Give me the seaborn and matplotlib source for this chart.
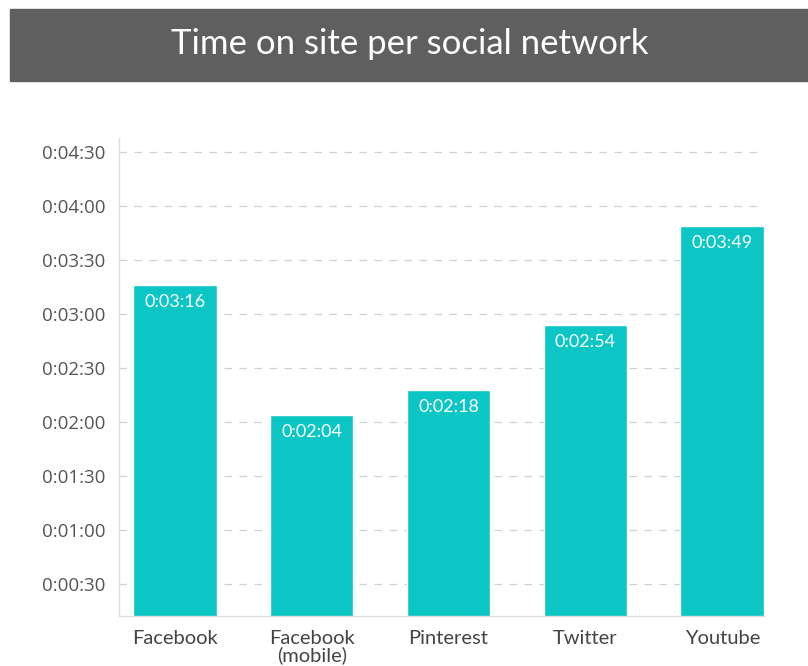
import numpy as np
import pandas as pd
import matplotlib
matplotlib.use('Agg')
import matplotlib.pyplot as plt
from matplotlib.patches import Rectangle
from matplotlib.ticker import FuncFormatter
import seaborn as sns

# data: time on site, in seconds
networks = ['Facebook', 'Facebook\n(mobile)', 'Pinterest', 'Twitter', 'Youtube']
seconds = [196, 124, 138, 174, 229]
y_ticks = [30, 60, 90, 120, 150, 180, 210, 240, 270]

BAR_COLOR = '#0cc6c6'
TICK_COLOR = '#555555'


def hms(s, pos=None):
    s = int(round(s))
    return f'{s // 3600}:{(s % 3600) // 60:02d}:{s % 60:02d}'


sns.set_theme(style='white')
plt.rcParams['font.family'] = ['Lato', 'DejaVu Sans']

df = pd.DataFrame({'network': networks, 'seconds': seconds})

fig = plt.figure(figsize=(8.08, 6.66), dpi=100)
ax = fig.add_axes([0.147, 0.075, 0.7985, 0.718])

sns.barplot(data=df, x='network', y='seconds', color=BAR_COLOR, saturation=1,
            width=0.61, ax=ax)

ax.set_xlim(-0.41, 4.305)
ax.set_ylim(12, 278)
ax.set_yticks(y_ticks)
ax.yaxis.set_major_formatter(FuncFormatter(hms))
ax.set_xlabel('')
ax.set_ylabel('')

ax.grid(axis='y', color='#d0d0d0', linestyle=(0, (6, 6)), linewidth=0.9)
ax.set_axisbelow(True)
for side in ['top', 'right']:
    ax.spines[side].set_visible(False)
for side in ['left', 'bottom']:
    ax.spines[side].set_color('#dddddd')
    ax.spines[side].set_linewidth(1.0)

ax.tick_params(axis='y', length=0, pad=9.5, labelsize=13.5, labelcolor=TICK_COLOR)
ax.tick_params(axis='x', length=0, pad=10, labelsize=14.5, labelcolor='#444444')
for lbl in ax.get_yticklabels():
    lbl.set_fontfamily(['Open Sans', 'DejaVu Sans'])
for lbl in ax.get_xticklabels():
    lbl.set_linespacing(0.95)

# value labels inside the bars
for bar, val in zip(ax.patches, seconds):
    ax.annotate(hms(val), (bar.get_x() + bar.get_width() / 2, bar.get_height()),
                xytext=(0, -6.5), textcoords='offset points', ha='center', va='top',
                color='white', fontsize=13)

# dark title banner
fig.patches.append(Rectangle((10 / 808, 1 - 80.5 / 666), 1.0, 71.5 / 666,
                             transform=fig.transFigure, color='#5f5f5f', zorder=0))
fig.text(410 / 808, 1 - 44 / 666, 'Time on site per social network', color='white',
         fontsize=25, fontweight='normal', ha='center', va='center')

fig.savefig('out.png', dpi=100, facecolor='white')
